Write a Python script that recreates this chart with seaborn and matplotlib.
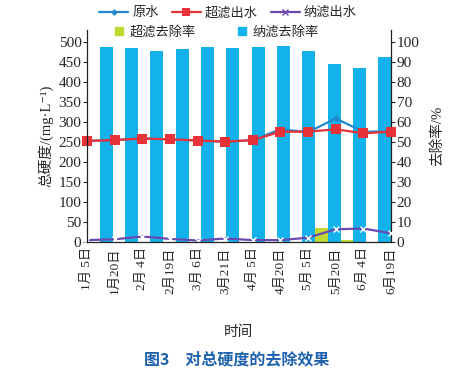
import numpy as np
import pandas as pd
import matplotlib
matplotlib.use("Agg")
import matplotlib.pyplot as plt
import seaborn as sns
from matplotlib.lines import Line2D
from matplotlib.patches import Patch

# data
dates = ["1月 5日", "1月20日", "2月 4日", "2月19日", "3月 6日", "3月21日",
         "4月 5日", "4月20日", "5月 5日", "5月20日", "6月 4日", "6月19日"]
raw_water = [252, 254, 258, 256, 253, 250, 254, 281, 274, 308, 275, 276]
uf_out = [252, 254, 258, 256, 253, 250, 254, 275, 275, 281, 271, 275]
nf_out = [4, 6, 13, 7, 3, 8, 4, 4, 10, 31, 33, 21]
uf_rate = [0, 0, 0, 0, 0, 0, 0, 0, 0, 6.7, 1.0, 0]
nf_rate = [97.5, 96.8, 95.5, 96.5, 97.6, 96.8, 97.3, 97.8, 95.6, 88.7, 86.7, 92.2]

sns.set_style("white")
plt.rcParams['font.family'] = ['Liberation Serif', 'Noto Sans CJK SC', 'DejaVu Sans']
plt.rcParams['axes.unicode_minus'] = False

c_raw = "#2288cc"
c_uf = "#e8323a"
c_nf = "#6a4ab0"
c_ufb = "#c2d934"
c_nfb = "#14b2ea"

df = pd.DataFrame({"x": np.arange(len(dates)), "raw": raw_water,
                   "uf": uf_out, "nf": nf_out})

fig = plt.figure(figsize=(4.76, 3.74), dpi=100)
W, H = 476, 374
ax = fig.add_axes([87 / W, 1 - 241.7 / H, (391 - 87) / W, (241.7 - 30) / H])
ax2 = ax.twinx()

# bars on the secondary axis, clustered "between tick marks"
n = len(dates)
span = n - 1
centers = (np.arange(n) + 0.5) * span / n
bw = 13 / 27.64
ax2.bar(centers - bw / 2, uf_rate, width=bw, color=c_ufb, linewidth=0)
ax2.bar(centers + bw / 2, nf_rate, width=bw, color=c_nfb, linewidth=0)

# lines on the primary axis
sns.lineplot(data=df, x="x", y="raw", ax=ax, color=c_raw, marker="D",
             markersize=3.5, linewidth=1.6, markeredgewidth=0, clip_on=False)
sns.lineplot(data=df, x="x", y="uf", ax=ax, color=c_uf, marker="s",
             markersize=6.5, linewidth=1.6, markeredgewidth=0, clip_on=False)
sns.lineplot(data=df, x="x", y="nf", ax=ax, color=c_nf, marker="x",
             markersize=5, linewidth=1.6, markeredgewidth=1.0, clip_on=False)

ax.set_zorder(ax2.get_zorder() + 1)
ax.patch.set_visible(False)

ax.set_xlim(0, span)
ax.set_ylim(0, 211.7 * 2.5)
ax2.set_ylim(0, 211.7 / 2)
ax.set_yticks(range(0, 501, 50))
ax2.set_yticks(range(0, 101, 10))
ax.set_xticks(range(n))
ax.set_xticklabels(dates, rotation=90, fontsize=9.5)
ax.tick_params(axis="y", labelsize=11, direction="out", length=3, width=0.8, pad=1)
ax2.tick_params(axis="y", labelsize=11, direction="out", length=3, width=0.8, pad=1)
ax.tick_params(axis="x", length=0, pad=4)

for a in (ax, ax2):
    for s in a.spines.values():
        s.set_visible(False)
ax.spines["left"].set_visible(True)
ax.spines["bottom"].set_visible(True)
ax2.spines["right"].set_visible(True)
for s in (ax.spines["left"], ax.spines["bottom"], ax2.spines["right"]):
    s.set_color("#222222")
    s.set_linewidth(0.9)

ax.set_xlabel("")
ax.set_ylabel("总硬度/(mg·L⁻¹)", fontsize=10.5, labelpad=4)
ax2.set_ylabel("去除率/%", fontsize=10.5, labelpad=8)

# legends
h1 = [Line2D([], [], color=c_raw, marker="D", markersize=3.5, lw=1.6, markeredgewidth=0),
      Line2D([], [], color=c_uf, marker="s", markersize=6, lw=1.6, markeredgewidth=0),
      Line2D([], [], color=c_nf, marker="x", markersize=5, lw=1.6)]
leg1 = fig.legend(h1, ["原水", "超滤出水", "纳滤出水"], ncol=3, frameon=False,
                  loc="center", bbox_to_anchor=(228 / W, 1 - 13 / H),
                  fontsize=9.5, handlelength=2.2, handletextpad=0.3,
                  columnspacing=1.0, borderpad=0)
h2 = [Patch(color=c_ufb), Patch(color=c_nfb)]
leg2 = fig.legend(h2, ["超滤去除率", "纳滤去除率"], ncol=2, frameon=False,
                  loc="center", bbox_to_anchor=(217 / W, 1 - 32 / H),
                  fontsize=9.5, handlelength=0.6, handleheight=0.6,
                  handletextpad=0.5, columnspacing=3.2, borderpad=0)

fig.text(238 / W, 1 - 332 / H, "时间", ha="center", va="center", fontsize=10.5)
fig.text(237 / W, 1 - 359 / H, "图3　对总硬度的去除效果", ha="center", va="center",
         fontsize=11.5, fontweight="bold", color="#1f62ae",
         family=["Noto Sans CJK SC"])

fig.savefig("out.png", dpi=100)
